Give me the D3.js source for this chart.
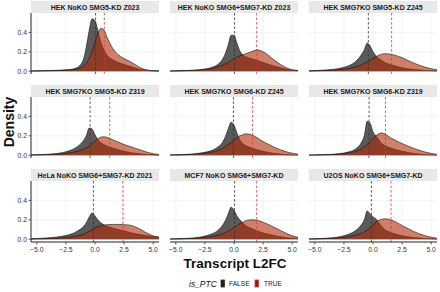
<!DOCTYPE html>
<html><head><meta charset="utf-8">
<script src="https://cdn.jsdelivr.net/npm/d3@7"></script>
<style>body{margin:0;background:#fff}svg{display:block}text{font-family:"Liberation Sans",Arial,sans-serif}</style>
</head><body>
<script>
const panelTitles = [
  "HEK NoKO SMG5-KD Z023", "HEK NoKO SMG6+SMG7-KD Z023", "HEK SMG7KO SMG5-KD Z245",
  "HEK SMG7KO SMG5-KD Z319", "HEK SMG7KO SMG6-KD Z245", "HEK SMG7KO SMG6-KD Z319",
  "HeLa NoKO SMG6+SMG7-KD Z021", "MCF7 NoKO SMG6+SMG7-KD", "U2OS NoKO SMG6+SMG7-KD"
];
const groups = ["FALSE", "TRUE"];
const xGrid = [-5.5,-5,-4.5,-4,-3.5,-3,-2.5,-2,-1.5,-1,-0.75,-0.5,-0.25,0,0.25,0.5,0.75,1,1.5,2,2.5,3,3.5,4,4.5,5,5.5];
const densityFalse = [
  [0.003,0.004,0.005,0.006,0.008,0.01,0.014,0.02,0.04,0.12,0.25,0.42,0.54,0.52,0.42,0.3,0.22,0.17,0.12,0.09,0.07,0.05,0.03,0.015,0.008,0.004,0.002],
  [0.003,0.004,0.006,0.008,0.01,0.015,0.022,0.035,0.06,0.12,0.18,0.27,0.37,0.37,0.29,0.21,0.17,0.15,0.13,0.11,0.09,0.07,0.05,0.035,0.02,0.01,0.005],
  [0.004,0.006,0.009,0.013,0.018,0.026,0.04,0.06,0.1,0.17,0.22,0.29,0.26,0.2,0.16,0.13,0.11,0.09,0.07,0.05,0.035,0.025,0.018,0.012,0.008,0.005,0.003],
  [0.003,0.005,0.007,0.01,0.015,0.022,0.035,0.055,0.09,0.15,0.2,0.28,0.27,0.21,0.16,0.13,0.11,0.095,0.075,0.055,0.04,0.028,0.019,0.012,0.007,0.004,0.002],
  [0.003,0.004,0.006,0.009,0.013,0.02,0.03,0.045,0.075,0.13,0.19,0.27,0.34,0.31,0.23,0.16,0.12,0.1,0.075,0.055,0.04,0.028,0.018,0.011,0.006,0.003,0.002],
  [0.002,0.003,0.004,0.006,0.009,0.014,0.022,0.037,0.065,0.13,0.2,0.35,0.33,0.24,0.2,0.16,0.12,0.1,0.075,0.055,0.04,0.028,0.018,0.011,0.006,0.003,0.002],
  [0.005,0.007,0.01,0.014,0.019,0.027,0.038,0.055,0.085,0.13,0.17,0.23,0.27,0.24,0.2,0.17,0.15,0.135,0.115,0.1,0.085,0.07,0.055,0.045,0.035,0.025,0.018],
  [0.003,0.004,0.006,0.009,0.013,0.02,0.032,0.05,0.08,0.14,0.19,0.26,0.33,0.3,0.24,0.2,0.17,0.14,0.11,0.085,0.065,0.05,0.036,0.025,0.016,0.01,0.006],
  [0.003,0.005,0.007,0.01,0.015,0.022,0.035,0.055,0.09,0.15,0.2,0.29,0.26,0.23,0.21,0.17,0.13,0.1,0.07,0.05,0.035,0.025,0.017,0.011,0.007,0.004,0.002]
];
const densityTrue = [
  [0.002,0.003,0.004,0.005,0.006,0.008,0.01,0.015,0.025,0.05,0.08,0.13,0.2,0.3,0.39,0.44,0.43,0.36,0.24,0.17,0.13,0.1,0.065,0.03,0.012,0.005,0.002],
  [0.002,0.003,0.004,0.006,0.008,0.012,0.018,0.025,0.04,0.06,0.075,0.09,0.11,0.13,0.145,0.16,0.17,0.18,0.2,0.22,0.2,0.16,0.11,0.07,0.035,0.015,0.006],
  [0.003,0.004,0.006,0.008,0.011,0.015,0.02,0.03,0.045,0.065,0.08,0.095,0.11,0.13,0.15,0.165,0.175,0.18,0.175,0.16,0.14,0.11,0.085,0.06,0.04,0.025,0.015],
  [0.002,0.003,0.004,0.006,0.008,0.012,0.018,0.027,0.04,0.06,0.075,0.095,0.12,0.145,0.17,0.185,0.19,0.185,0.16,0.135,0.11,0.09,0.07,0.05,0.03,0.015,0.007],
  [0.002,0.003,0.004,0.006,0.009,0.013,0.02,0.03,0.045,0.07,0.09,0.11,0.13,0.155,0.18,0.2,0.21,0.22,0.21,0.18,0.14,0.11,0.08,0.055,0.035,0.02,0.01],
  [0.002,0.003,0.004,0.005,0.007,0.01,0.015,0.025,0.04,0.065,0.085,0.11,0.14,0.17,0.2,0.22,0.23,0.22,0.18,0.15,0.12,0.095,0.07,0.05,0.032,0.018,0.009],
  [0.002,0.003,0.004,0.006,0.008,0.011,0.016,0.024,0.035,0.05,0.065,0.08,0.1,0.115,0.13,0.14,0.145,0.15,0.152,0.152,0.15,0.145,0.125,0.095,0.06,0.035,0.02],
  [0.002,0.003,0.004,0.006,0.008,0.012,0.018,0.026,0.038,0.055,0.068,0.085,0.1,0.12,0.14,0.16,0.175,0.19,0.2,0.195,0.175,0.15,0.12,0.09,0.06,0.035,0.02],
  [0.002,0.003,0.004,0.006,0.008,0.012,0.018,0.027,0.04,0.06,0.075,0.095,0.12,0.15,0.175,0.195,0.205,0.21,0.2,0.175,0.14,0.11,0.08,0.055,0.035,0.02,0.01]
];
const medianFalse = [0.05, 0.05, -0.4, -0.42, -0.05, -0.34, -0.14, 0.05, -0.14];
const medianTrue  = [0.8, 1.95, 1.6, 1.27, 1.6, 1.07, 2.4, 1.95, 1.55];
const xTicks = [-5, -2.5, 0, 2.5, 5];
const yTicks = [0, 0.2, 0.4];

const W = 440, H = 292;
const svg = d3.select("body").append("svg").attr("width", W).attr("height", H);
const colX = [31, 170, 309], pw = 128;
const rowY = [13, 97, 181], ph = 61, stripH = 12;
const fillCol = {FALSE: "#262626", TRUE: "#b02a08"};
const fillOp = {FALSE: 0.76, TRUE: 0.6};
const lineCol = {FALSE: "#333333", TRUE: "#e0302a"};
const fmt = d => (d < 0 ? "\u2212" : "") + Math.abs(d).toFixed(1);

panelTitles.forEach((title, i) => {
  const c = i % 3, r = Math.floor(i / 3);
  const x0 = colX[c], y0 = rowY[r];
  const x = d3.scaleLinear().domain([-5.5, 5.5]).range([x0, x0 + pw]);
  const y = d3.scaleLinear().domain([-0.029, 0.6]).range([y0 + ph, y0]);
  const g = svg.append("g");
  // strip
  g.append("rect").attr("x", x0).attr("y", y0 - stripH).attr("width", pw).attr("height", stripH).attr("fill", "#e8e8e8");
  g.append("text").attr("x", x0 + pw / 2).attr("y", y0 - stripH / 2 + 2.6).attr("text-anchor", "middle")
    .attr("font-size", 7).attr("font-weight", "bold").attr("fill", "#1a1a1a").text(title);
  // grid
  g.selectAll(".gx").data(xTicks).join("line").attr("x1", d => x(d)).attr("x2", d => x(d)).attr("y1", y0).attr("y2", y0 + ph)
    .attr("stroke", "#ebebeb").attr("stroke-width", 0.6);
  g.selectAll(".gy").data(yTicks).join("line").attr("y1", d => y(d)).attr("y2", d => y(d)).attr("x1", x0).attr("x2", x0 + pw)
    .attr("stroke", "#ebebeb").attr("stroke-width", 0.6);
  const clipId = "clip" + i;
  svg.append("clipPath").attr("id", clipId).append("rect").attr("x", x0).attr("y", y0).attr("width", pw).attr("height", ph);
  const pg = g.append("g").attr("clip-path", `url(#${clipId})`);
  const series = {FALSE: densityFalse[i], TRUE: densityTrue[i]};
  groups.forEach(gr => {
    const pts = xGrid.map((xv, k) => [xv, series[gr][k]]);
    const area = d3.area().x(d => x(d[0])).y0(y(0)).y1(d => y(d[1])).curve(d3.curveMonotoneX);
    const line = d3.line().x(d => x(d[0])).y(d => y(d[1])).curve(d3.curveMonotoneX);
    pg.append("path").attr("d", area(pts)).attr("fill", fillCol[gr]).attr("fill-opacity", fillOp[gr]);
    pg.append("path").attr("d", line(pts)).attr("fill", "none").attr("stroke", "#111").attr("stroke-width", 0.6);
  });
  [["FALSE", medianFalse[i]], ["TRUE", medianTrue[i]]].forEach(([gr, m]) => {
    pg.append("line").attr("x1", x(m)).attr("x2", x(m)).attr("y1", y0).attr("y2", y0 + ph)
      .attr("stroke", lineCol[gr]).attr("stroke-width", 0.8).attr("stroke-dasharray", "2.5,2");
  });
  if (c === 0) {
    g.append("line").attr("x1", x0).attr("x2", x0).attr("y1", y0).attr("y2", y0 + ph).attr("stroke", "#222").attr("stroke-width", 1);
    yTicks.forEach(t => {
      g.append("line").attr("x1", x0 - 2.5).attr("x2", x0).attr("y1", y(t)).attr("y2", y(t)).attr("stroke", "#333").attr("stroke-width", 0.8);
      g.append("text").attr("x", x0 - 4).attr("y", y(t) + 2.4).attr("text-anchor", "end").attr("font-size", 6.8).attr("fill", "#333").text(t.toFixed(1));
    });
  }
  if (r === 2) {
    g.append("line").attr("x1", x0).attr("x2", x0 + pw).attr("y1", y0 + ph).attr("y2", y0 + ph).attr("stroke", "#222").attr("stroke-width", 1);
    xTicks.forEach(t => {
      g.append("line").attr("x1", x(t)).attr("x2", x(t)).attr("y1", y0 + ph).attr("y2", y0 + ph + 2.5).attr("stroke", "#333").attr("stroke-width", 0.8);
      g.append("text").attr("x", x(t)).attr("y", y0 + ph + 9.5).attr("text-anchor", "middle").attr("font-size", 6.8).attr("fill", "#333").text(fmt(t));
    });
  }
});

// axis titles
svg.append("text").attr("transform", "translate(14,122) rotate(-90)").attr("text-anchor", "middle")
  .attr("font-size", 14).attr("font-weight", "bold").attr("fill", "#111").text("Density");
svg.append("text").attr("x", 235).attr("y", 268).attr("text-anchor", "middle")
  .attr("font-size", 13.5).attr("font-weight", "bold").attr("fill", "#111").text("Transcript L2FC");

// legend
const lg = svg.append("g");
lg.append("text").attr("x", 189).attr("y", 286.5).attr("font-size", 8.5).attr("font-style", "italic").attr("fill", "#111").text("is_PTC");
const keyX = [221, 255], labX = [229, 264];
groups.forEach((gr, k) => {
  lg.append("rect").attr("x", keyX[k]).attr("y", 280).attr("width", 3.5).attr("height", 7)
    .attr("fill", gr === "FALSE" ? "#222" : "#7a2a1c").attr("stroke", lineCol[gr]).attr("stroke-width", 0.8);
  lg.append("text").attr("x", labX[k]).attr("y", 286).attr("font-size", 6.6).attr("fill", "#222").text(gr);
});
</script>
</body></html>
